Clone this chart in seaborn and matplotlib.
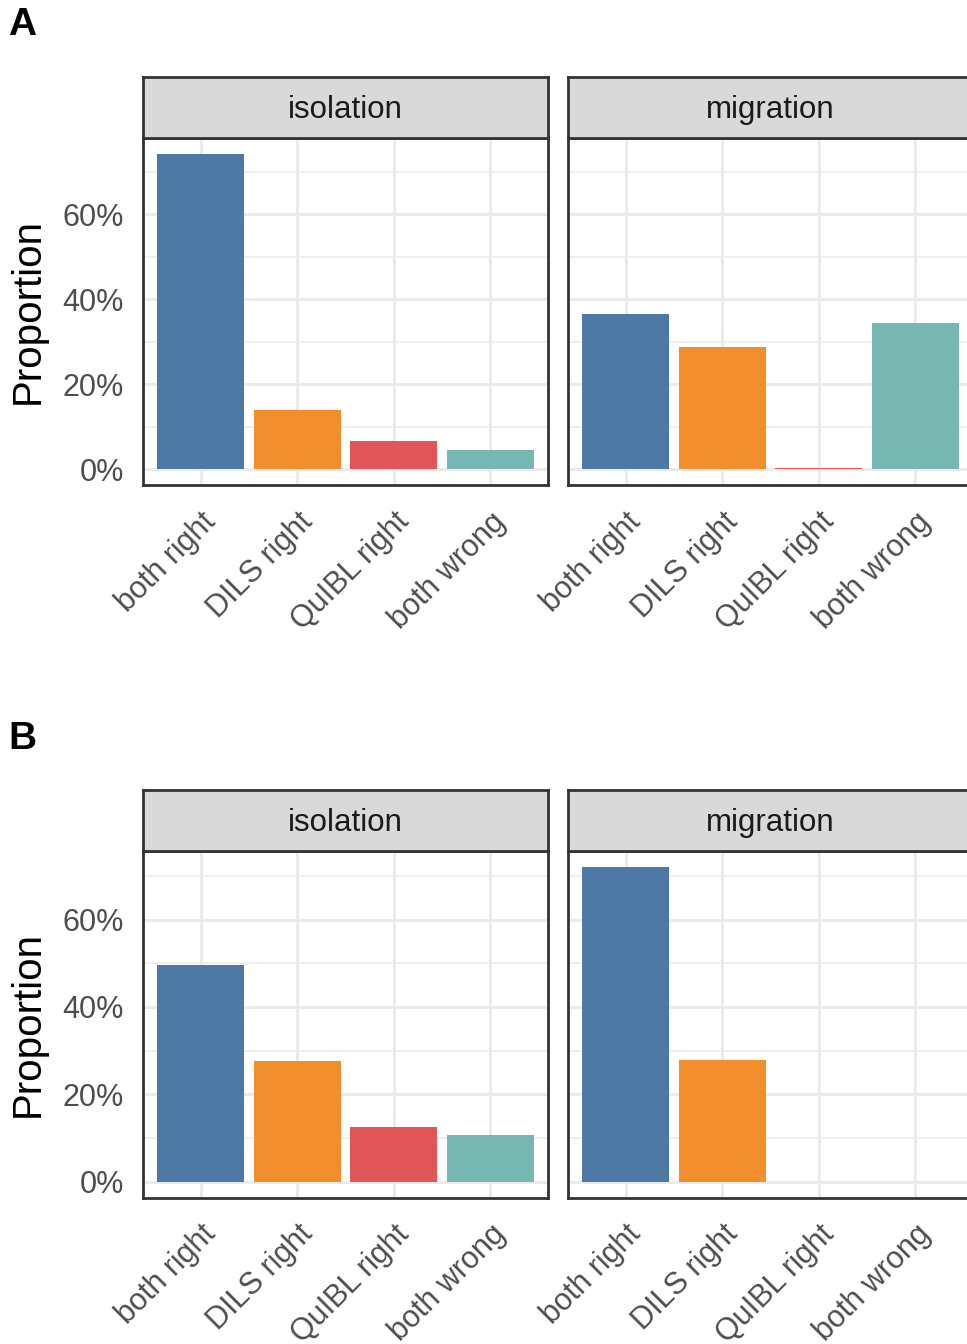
import matplotlib
matplotlib.use("Agg")
import matplotlib.pyplot as plt
import seaborn as sns
import pandas as pd
from matplotlib.ticker import FixedLocator, FuncFormatter

# ---------------- data ----------------
outcomes = ["both right", "DILS right", "QuIBL right", "both wrong"]
scenarios = ["isolation", "migration"]
panels = ["A", "B"]
A_isolation = [74.3, 13.9, 6.7, 4.5]
A_migration = [36.6, 28.8, 0.2, 34.5]
B_isolation = [49.5, 27.6, 12.5, 10.7]
B_migration = [72.1, 27.9, 0.0, 0.0]
colors = ["#4E79A7", "#F28E2B", "#E15759", "#76B7B2"]
y_ticks = [0, 20, 40, 60]
y_minor = [10, 30, 50, 70]

data = {"A": {"isolation": A_isolation, "migration": A_migration},
        "B": {"isolation": B_isolation, "migration": B_migration}}

# ---------------- style ----------------
sns.set_theme(style="white")
plt.rcParams['font.family'] = ['Liberation Sans', 'DejaVu Sans']

W, H = 967, 1344
fig = plt.figure(figsize=(W / 100, H / 100), dpi=100)


def ax_px(x0, y0, x1, y1):
    return fig.add_axes([x0 / W, 1 - y1 / H, (x1 - x0) / W, (y1 - y0) / H])


BORDER = "#333333"
GRID = "#EBEBEB"
facet_x = [(143, 548), (568, 973)]
rows = {"A": dict(strip_top=76.5, panel_top=138, panel_bot=485, label_base=35),
        "B": dict(strip_top=790, panel_top=851, panel_bot=1197.5, label_base=748.5)}

for p in panels:
    r = rows[p]
    vmax = max(max(v) for v in data[p].values())
    ylo, yhi = -0.05 * vmax, 1.05 * vmax
    for j, sc in enumerate(scenarios):
        x0, x1 = facet_x[j]
        ax = ax_px(x0, r["panel_top"], x1, r["panel_bot"])
        df = pd.DataFrame({"outcome": outcomes, "prop": data[p][sc]})
        sns.barplot(data=df, x="outcome", y="prop", hue="outcome",
                    order=outcomes, hue_order=outcomes, palette=colors,
                    saturation=1, width=0.9, legend=False, ax=ax,
                    linewidth=0)
        ax.set_xlim(-0.6, 3.6)
        ax.set_ylim(ylo, yhi)
        ax.set_xlabel("")
        ax.set_ylabel("")
        ax.yaxis.set_major_locator(FixedLocator(y_ticks))
        ax.yaxis.set_minor_locator(FixedLocator(y_minor))
        ax.yaxis.set_major_formatter(FuncFormatter(lambda v, pos: f"{v:.0f}%"))
        ax.set_axisbelow(True)
        ax.grid(True, which="major", color=GRID, linewidth=2.2)
        ax.grid(True, which="minor", axis="y", color=GRID, linewidth=1.1)
        for s in ax.spines.values():
            s.set_visible(True)
            s.set_color(BORDER)
            s.set_linewidth(2.0)
        ax.tick_params(axis="both", which="major", direction="out", length=7.2,
                       width=2.2, color=BORDER, labelcolor="#4D4D4D",
                       labelsize=22)
        ax.tick_params(axis="y", which="major", pad=6.5)
        ax.tick_params(axis="x", which="major", pad=8.5)
        ax.tick_params(which="minor", length=0)
        ax.set_xticks(range(len(outcomes)))
        ax.set_xticklabels(outcomes, rotation=45, ha="right", va="top",
                           rotation_mode="anchor")
        if j == 1:
            ax.tick_params(axis="y", length=0, labelleft=False)
        # strip
        sax = ax_px(x0, r["strip_top"], x1, r["panel_top"])
        sax.set_facecolor("#D9D9D9")
        sax.set_xticks([])
        sax.set_yticks([])
        for s in sax.spines.values():
            s.set_visible(True)
            s.set_color(BORDER)
            s.set_linewidth(2.0)
        sax.text(0.5, 0.52, sc, ha="center", va="center_baseline", fontsize=22.5,
                 color="#1A1A1A", transform=sax.transAxes)
    # y label
    yc = (r["panel_top"] + r["panel_bot"]) / 2
    fig.text(28 / W, 1 - yc / H, "Proportion", rotation=90, ha="center",
             va="center", fontsize=29, color="black")
    fig.text(8 / W, 1 - r["label_base"] / H, p, ha="left", va="baseline",
             fontsize=28, fontweight="bold", color="black")

fig.savefig("out.png", dpi=100)
